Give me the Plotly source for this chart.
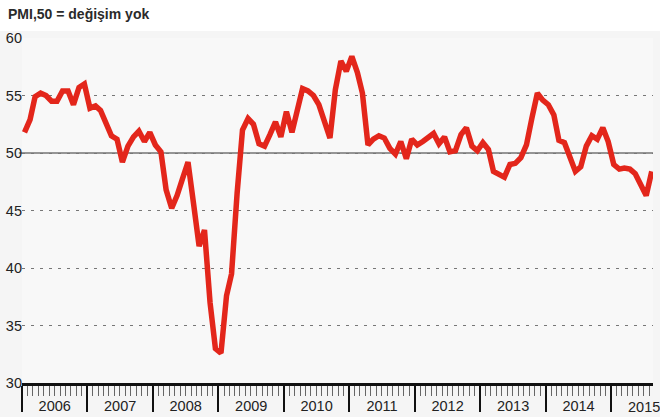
import pandas as pd
import plotly.graph_objects as go

title_text = "PMI,50 = değişim yok"
start_month = "2006-01-01"
pmi = [
    51.8, 52.9, 54.9, 55.2, 55.0, 54.5, 54.5, 55.4, 55.4, 54.2, 55.7, 56.0,  # 2006
    53.9, 54.1, 53.7, 52.6, 51.5, 51.2, 49.2, 50.6, 51.4, 51.9, 51.0, 51.8,  # 2007
    50.7, 50.1, 46.8, 45.2, 46.3, 47.8, 49.2, 45.6, 41.9, 43.3, 37.0, 33.0,  # 2008
    32.6, 37.6, 39.5, 46.5, 52.0, 53.0, 52.5, 50.8, 50.6, 51.6, 52.7, 51.4,  # 2009
    53.6, 51.8, 53.8, 55.6, 55.4, 55.0, 54.2, 52.7, 51.3, 55.5, 58.0, 57.1,  # 2010
    58.4, 57.0, 55.2, 50.7, 51.2, 51.5, 51.3, 50.4, 49.9, 51.0, 49.5, 51.2,  # 2011
    50.7, 51.0, 51.4, 51.7, 50.8, 51.4, 50.1, 50.2, 51.6, 52.2, 50.6, 50.2,  # 2012
    50.9, 50.3, 48.4, 48.2, 47.9, 49.0, 49.1, 49.6, 50.7, 53.0, 55.2, 54.6,  # 2013
    54.2, 53.3, 51.1, 50.9, 49.8, 48.4, 48.8, 50.6, 51.5, 51.2, 52.2, 51.0,  # 2014
    49.0, 48.6, 48.7, 48.6, 48.2, 47.3, 46.3, 48.4,                          # 2015
]
y_ticks = [30, 35, 40, 45, 50, 55, 60]
ref_level = 50
last_year_label = "2015"

dates = pd.date_range(start_month, periods=len(pmi), freq="MS") + pd.Timedelta(days=14)

FONT = "Liberation Sans, Arial, sans-serif"
TXT = "#222222"

fig = go.Figure()
fig.add_trace(go.Scatter(
    x=dates, y=pmi, mode="lines",
    line=dict(color="#e3261b", width=5.5),
    hoverinfo="skip", showlegend=False,
))

fig.update_layout(
    width=660, height=417,
    margin=dict(l=22, r=7, t=38, b=34, autoexpand=False),
    paper_bgcolor="#f5f5f5",
    plot_bgcolor="#f8f8f8",
    font=dict(family=FONT, color=TXT),
    title=dict(text="<b>" + title_text + "</b>", x=8 / 660, xanchor="left",
               y=1 - 14 / 417, yanchor="middle", xref="container", yref="container",
               automargin=False,
               font=dict(size=14, color="#2a2a2a", family=FONT)),
    showlegend=False,
)

fig.add_shape(type="rect", xref="paper", yref="paper",
              x0=-0.05, x1=1.02, y0=(383 - 31) / 345, y1=1.2,
              fillcolor="#ffffff", line=dict(width=0), layer="below")
fig.add_shape(type="line", xref="paper", yref="y", x0=-0.005, x1=1.0,
              y0=ref_level, y1=ref_level, line=dict(color="#333333", width=1),
              layer="below")

# last (partial) year label, centred on mid-year like the others
fig.add_annotation(x=pd.Timestamp(last_year_label + "-07-02"), xref="x",
                   y=-24 / 345, yref="paper", yanchor="middle",
                   text=last_year_label, showarrow=False,
                   font=dict(size=14.5, color=TXT, family=FONT))

fig.update_xaxes(
    type="date",
    range=["2006-01-01", "2015-08-22"],
    automargin=False,
    showgrid=False, zeroline=False,
    showline=True, linecolor="#111111", linewidth=3,
    dtick="M12", tick0="2006-01-01", tickformat="%Y",
    ticklabelmode="period",
    ticks="outside", ticklen=26, tickwidth=1.5, tickcolor="#111111",
    ticklabelstandoff=-18,
    tickfont=dict(size=14.5, color=TXT, family=FONT),
    minor=dict(dtick="M1", tick0="2006-01-01", ticks="outside", ticklen=10,
               tickwidth=1, tickcolor="#666666", showgrid=False),
    fixedrange=True,
)
fig.update_yaxes(
    range=[30, 60],
    tickvals=y_ticks,
    automargin=False,
    showgrid=True, gridcolor="#777777", gridwidth=1, griddash="3px,6px",
    zeroline=False, showline=False,
    ticks="", ticklabelstandoff=-1,
    tickfont=dict(size=14.5, color=TXT, family=FONT),
    fixedrange=True,
)

fig.write_html("out.html")
